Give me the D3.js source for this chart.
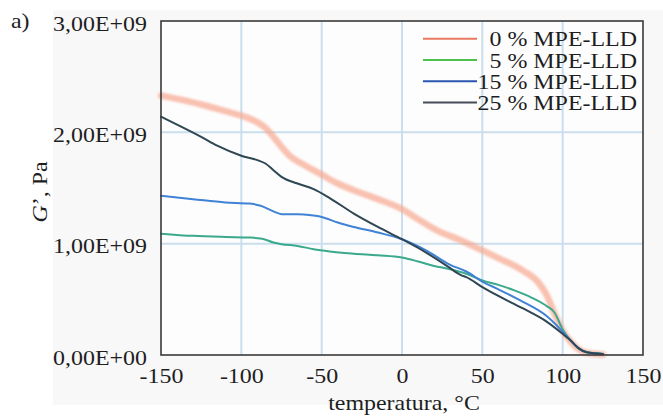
<!DOCTYPE html>
<html>
<head>
<meta charset="utf-8">
<script src="https://cdn.jsdelivr.net/npm/d3@7"></script>
<style>
  html, body { margin: 0; padding: 0; background: #ffffff; }
  svg { display: block; }
  text { font-family: "Liberation Serif", "Times New Roman", serif; fill: #1e1e1e; }
</style>
</head>
<body>
<svg id="chart" width="663" height="417"></svg>
<script>
// Storage modulus G' (×1e9 Pa) against temperature (°C)
const temp0  = [-150, -140, -125, -110, -100, -90, -85, -80, -75, -70, -60, -50, -40, -30, -15, 0, 10, 23, 35, 50, 60, 75, 85, 90, 95, 100, 105, 110, 115, 125];
const g0     = [2.33, 2.30, 2.25, 2.19, 2.15, 2.09, 2.04, 1.96, 1.87, 1.79, 1.70, 1.62, 1.54, 1.48, 1.40, 1.31, 1.22, 1.11, 1.04, 0.94, 0.87, 0.76, 0.65, 0.54, 0.37, 0.22, 0.12, 0.05, 0.02, 0.005];

const temp5  = [-150, -130, -110, -95, -87, -80, -75, -65, -55, -45, -30, -15, 0, 10, 20, 30, 40, 50, 60, 70, 80, 90, 95, 100, 105, 110, 115, 125];
const g5     = [1.09, 1.07, 1.06, 1.055, 1.045, 1.01, 0.995, 0.98, 0.95, 0.93, 0.91, 0.895, 0.875, 0.84, 0.80, 0.77, 0.73, 0.67, 0.63, 0.58, 0.52, 0.44, 0.38, 0.23, 0.13, 0.06, 0.025, 0.01];

const temp15 = [-150, -130, -110, -95, -88, -80, -75, -65, -60, -50, -40, -30, -15, 0, 15, 30, 40, 50, 60, 75, 90, 100, 105, 110, 115, 125];
const g15    = [1.43, 1.40, 1.37, 1.36, 1.34, 1.29, 1.265, 1.265, 1.26, 1.24, 1.19, 1.15, 1.10, 1.04, 0.94, 0.81, 0.75, 0.66, 0.59, 0.48, 0.35, 0.21, 0.13, 0.06, 0.025, 0.01];

const temp25 = [-150, -140, -125, -115, -100, -90, -85, -80, -75, -65, -55, -45, -30, -15, 0, 15, 30, 34, 37, 40, 50, 60, 75, 90, 100, 105, 110, 115, 125];
const g25    = [2.14, 2.07, 1.96, 1.88, 1.79, 1.75, 1.72, 1.66, 1.60, 1.54, 1.49, 1.41, 1.27, 1.15, 1.04, 0.92, 0.78, 0.74, 0.715, 0.70, 0.61, 0.53, 0.42, 0.30, 0.19, 0.13, 0.06, 0.025, 0.01];

const seriesNames  = ["0 % MPE-LLD", "5 % MPE-LLD", "15 % MPE-LLD", "25 % MPE-LLD"];
const xTicks       = [-150, -100, -50, 0, 50, 100, 150];
const yTicks       = [0, 1, 2, 3];
const yTickLabels  = ["0,00E+00", "1,00E+09", "2,00E+09", "3,00E+09"];

const series = [
  { name: seriesNames[0], t: temp0,  g: g0,  color: "#f6a68f", legend: "#e9785f", width: 6.5, opacity: 0.7, blur: 1.2 },
  { name: seriesNames[1], t: temp5,  g: g5,  color: "#3aa98c", legend: "#4cc24a", width: 2,   opacity: 1,   blur: 0.5 },
  { name: seriesNames[2], t: temp15, g: g15, color: "#3f82d6", legend: "#2a55b0", width: 2,   opacity: 1,   blur: 0.5 },
  { name: seriesNames[3], t: temp25, g: g25, color: "#2f4654", legend: "#474b5a", width: 2,   opacity: 1,   blur: 0.5 }
];

// the typeset text is slightly wide: stretch glyphs horizontally
const STRETCH = "scale(1.14,1)";

const svg = d3.select("#chart");
const margin = { left: 161, top: 21, right: 20, bottom: 62 };
const W = 663, H = 417;
const plotW = W - margin.left - margin.right;
const plotH = H - margin.top - margin.bottom;

const x = d3.scaleLinear().domain([-150, 150]).range([margin.left, margin.left + plotW]);
const y = d3.scaleLinear().domain([0, 3]).range([margin.top + plotH, margin.top]);

const defs = svg.append("defs");
series.forEach((s, i) => {
  defs.append("filter").attr("id", "soft" + i)
    .attr("x", "-5%").attr("y", "-5%").attr("width", "110%").attr("height", "110%")
    .append("feGaussianBlur").attr("stdDeviation", s.blur);
});
defs.append("filter").attr("id", "gridsoft")
  .append("feGaussianBlur").attr("stdDeviation", 0.6);

// panel backgrounds
svg.append("rect").attr("x", 53).attr("y", 10).attr("width", W - 53).attr("height", 395).attr("fill", "#f8f8f9");
svg.append("rect").attr("x", margin.left).attr("y", margin.top).attr("width", plotW).attr("height", plotH).attr("fill", "#fdfdfd");

// grid
const grid = svg.append("g").attr("filter", "url(#gridsoft)");
grid.selectAll(".vg").data(xTicks.filter(d => d > -150 && d < 150)).join("line")
  .attr("x1", d => x(d)).attr("x2", d => x(d))
  .attr("y1", margin.top).attr("y2", margin.top + plotH)
  .attr("stroke", "#cadeee").attr("stroke-width", 2);
grid.selectAll(".hg").data(yTicks.filter(d => d > 0 && d < 3)).join("line")
  .attr("x1", margin.left).attr("x2", margin.left + plotW)
  .attr("y1", d => y(d)).attr("y2", d => y(d))
  .attr("stroke", "#cadeee").attr("stroke-width", 2);

// curves
const line = d3.line().x(d => x(d[0])).y(d => y(d[1])).curve(d3.curveMonotoneX);
series.forEach((s, i) => {
  const pts = s.t.map((t, k) => [t, s.g[k]]);
  svg.append("path").datum(pts)
    .attr("d", line)
    .attr("fill", "none")
    .attr("stroke", s.color)
    .attr("stroke-width", s.width)
    .attr("stroke-opacity", s.opacity)
    .attr("stroke-linejoin", "round")
    .attr("stroke-linecap", "round")
    .attr("filter", "url(#soft" + i + ")");
});

// frame
svg.append("rect").attr("x", margin.left).attr("y", margin.top).attr("width", plotW).attr("height", plotH)
  .attr("fill", "none").attr("stroke", "#3a3a3a").attr("stroke-width", 1.6);

// axes (labels only, no tick marks)
const xAxis = d3.axisBottom(x).tickValues(xTicks).tickSize(0).tickPadding(0).tickFormat(d => String(d));
const gx = svg.append("g").attr("transform", `translate(0,${margin.top + plotH})`).call(xAxis);
gx.select(".domain").remove();
gx.selectAll("text").attr("y", 28).attr("dy", 0).attr("transform", STRETCH)
  .style("font-family", '"Liberation Serif", serif').style("font-size", "21px").attr("fill", "#1e1e1e");

const yAxis = d3.axisLeft(y).tickValues(yTicks).tickSize(0).tickPadding(0).tickFormat((d, i) => yTickLabels[i]);
const gy = svg.append("g").attr("transform", `translate(147,0)`).call(yAxis);
gy.select(".domain").remove();
gy.selectAll("text").attr("x", 0).attr("dy", 9).attr("transform", STRETCH)
  .style("font-family", '"Liberation Serif", serif').style("font-size", "21px").attr("fill", "#1e1e1e");

// titles
svg.append("text").attr("transform", `translate(11,28) ${STRETCH}`).style("font-size", "21px").text("a)");
svg.append("text").attr("transform", `translate(404,410) ${STRETCH}`).attr("text-anchor", "middle").style("font-size", "21px").text("temperatura, °C");
const yt = svg.append("text").attr("transform", `translate(47,192) rotate(-90) ${STRETCH}`).attr("text-anchor", "middle").style("font-size", "21px");
yt.append("tspan").style("font-style", "italic").text("G");
yt.append("tspan").text("’, Pa");

// legend
const legend = svg.append("g");
const legY = [38.8, 60, 81.2, 102.4];
series.forEach((s, i) => {
  legend.append("line").attr("x1", 423).attr("x2", 477).attr("y1", legY[i]).attr("y2", legY[i])
    .attr("stroke", s.legend).attr("stroke-width", 2);
  legend.append("text").attr("transform", `translate(637,${legY[i] + 7.5}) ${STRETCH}`).attr("text-anchor", "end")
    .style("font-size", "21px").text(s.name);
});
</script>
</body>
</html>
